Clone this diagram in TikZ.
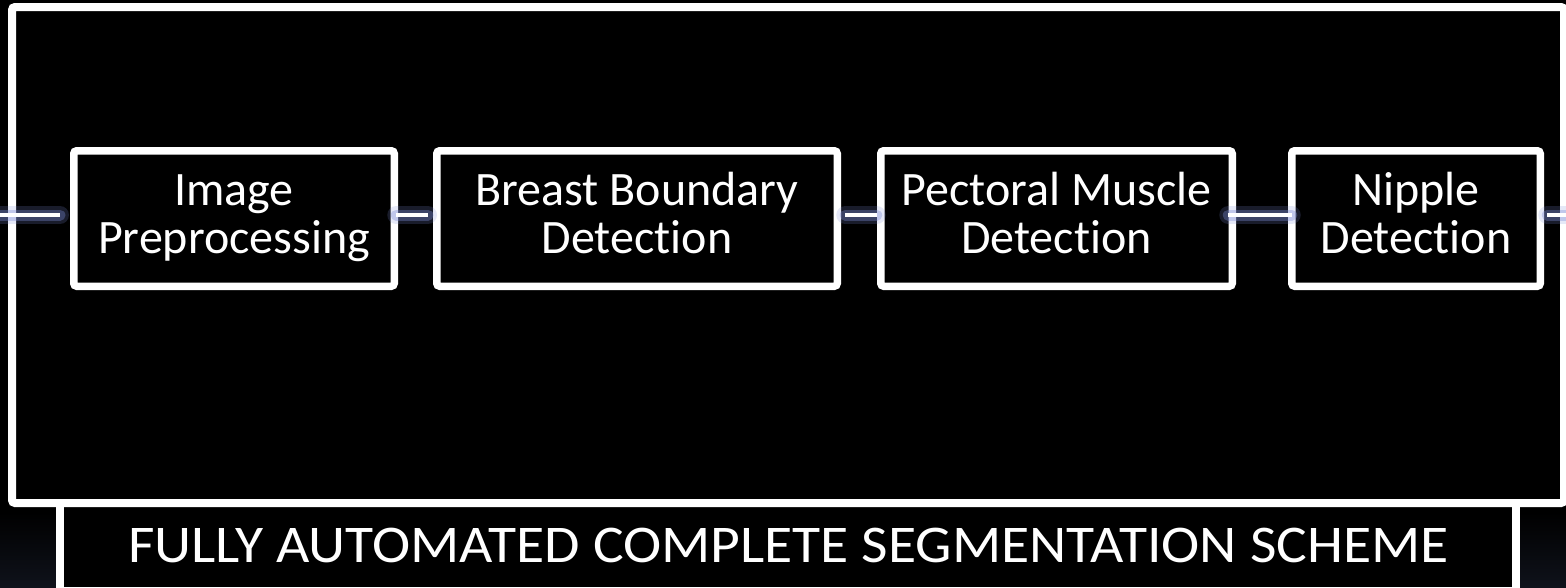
\documentclass[tikz,border=0pt]{standalone}
\usepackage{fontspec}
\setmainfont{Carlito}[Ligatures={NoCommon,NoContextual,NoRequired}, Contextuals={NoAlternate}]
\usetikzlibrary{calc}
\newcommand\boxstrut{\rule[-13.5pt]{0pt}{48pt}}
\newcommand\Detect{Detect\kern0pt ion}
\definecolor{cornernavy}{RGB}{15,18,27}
\definecolor{glowblue}{RGB}{125,140,215}
\begin{document}
\begin{tikzpicture}[x=1pt,y=-1pt,
  stage/.style={draw=white, fill=black, line width=7.5pt, rounded corners=3pt,
    inner sep=0pt, outer sep=0pt, minimum height=135.5pt, text=white,
    align=center, font=\fontsize{48}{48}\selectfont},
  frameline/.style={draw=white, line width=8pt},
  conn/.style={draw=white, line width=4.5pt,
    preaction={draw=glowblue, line width=18pt, line cap=round, opacity=0.2},
    preaction={draw=glowblue, line width=11pt, line cap=round, opacity=0.35}},
  caption/.style={text=white, inner sep=0pt, font=\fontsize{53}{53}\selectfont}]
\path[use as bounding box, clip] (0,0) rectangle (1566,587);
\fill[black] (0,0) rectangle (1566,587);
% lower corners
\shade[top color=black, bottom color=cornernavy] (0,512) rectangle (56,587);
\shade[top color=black, bottom color=cornernavy] (1520,512) rectangle (1566,587);
% outer frame
\draw[frameline, rounded corners=3pt] (12,7) rectangle (1564,503);
% caption box
\draw[frameline] (60,504) -- (60,600);
\draw[frameline] (1516,504) -- (1516,600);
\node[caption, anchor=base] (cap) at (788.5,562)
  {\scalebox{1.087}[1]{FULLY AUTOMATED COMPLETE SEGMENTATION SCHEME}};
% stages
\node[stage, minimum width=320.5pt] (b1) at (234,218.5)
  {\boxstrut Image\\\boxstrut Preprocessing};
\node[stage, minimum width=400.5pt] (b2) at (637,218.5)
  {\boxstrut Breast Boundary\\\boxstrut \Detect};
\node[stage, minimum width=351.5pt] (b3) at (1056.5,218.5)
  {\boxstrut Pectoral Muscle\\\boxstrut \Detect};
\node[stage, minimum width=248.5pt] (b4) at (1416,218.5)
  {\boxstrut Nipple\\\boxstrut \Detect};
% connectors
\coordinate (L) at (-2,215);
\coordinate (R) at (1572,215);
\draw[conn] (L) -- ($(b1.west)+(-13.75,-3.5)$);
\draw[conn] ($(b1.east)+(2,-3.5)$) -- ($(b2.west)+(-8.75,-3.5)$);
\draw[conn] ($(b2.east)+(8,-3.5)$) -- ($(b3.west)+(-4,-3.5)$);
\draw[conn] ($(b3.east)+(-4,-3.5)$) -- ($(b4.west)+(0,-3.5)$);
\draw[conn] ($(b4.east)+(7,-3.5)$) -- (R);
\end{tikzpicture}
\end{document}
